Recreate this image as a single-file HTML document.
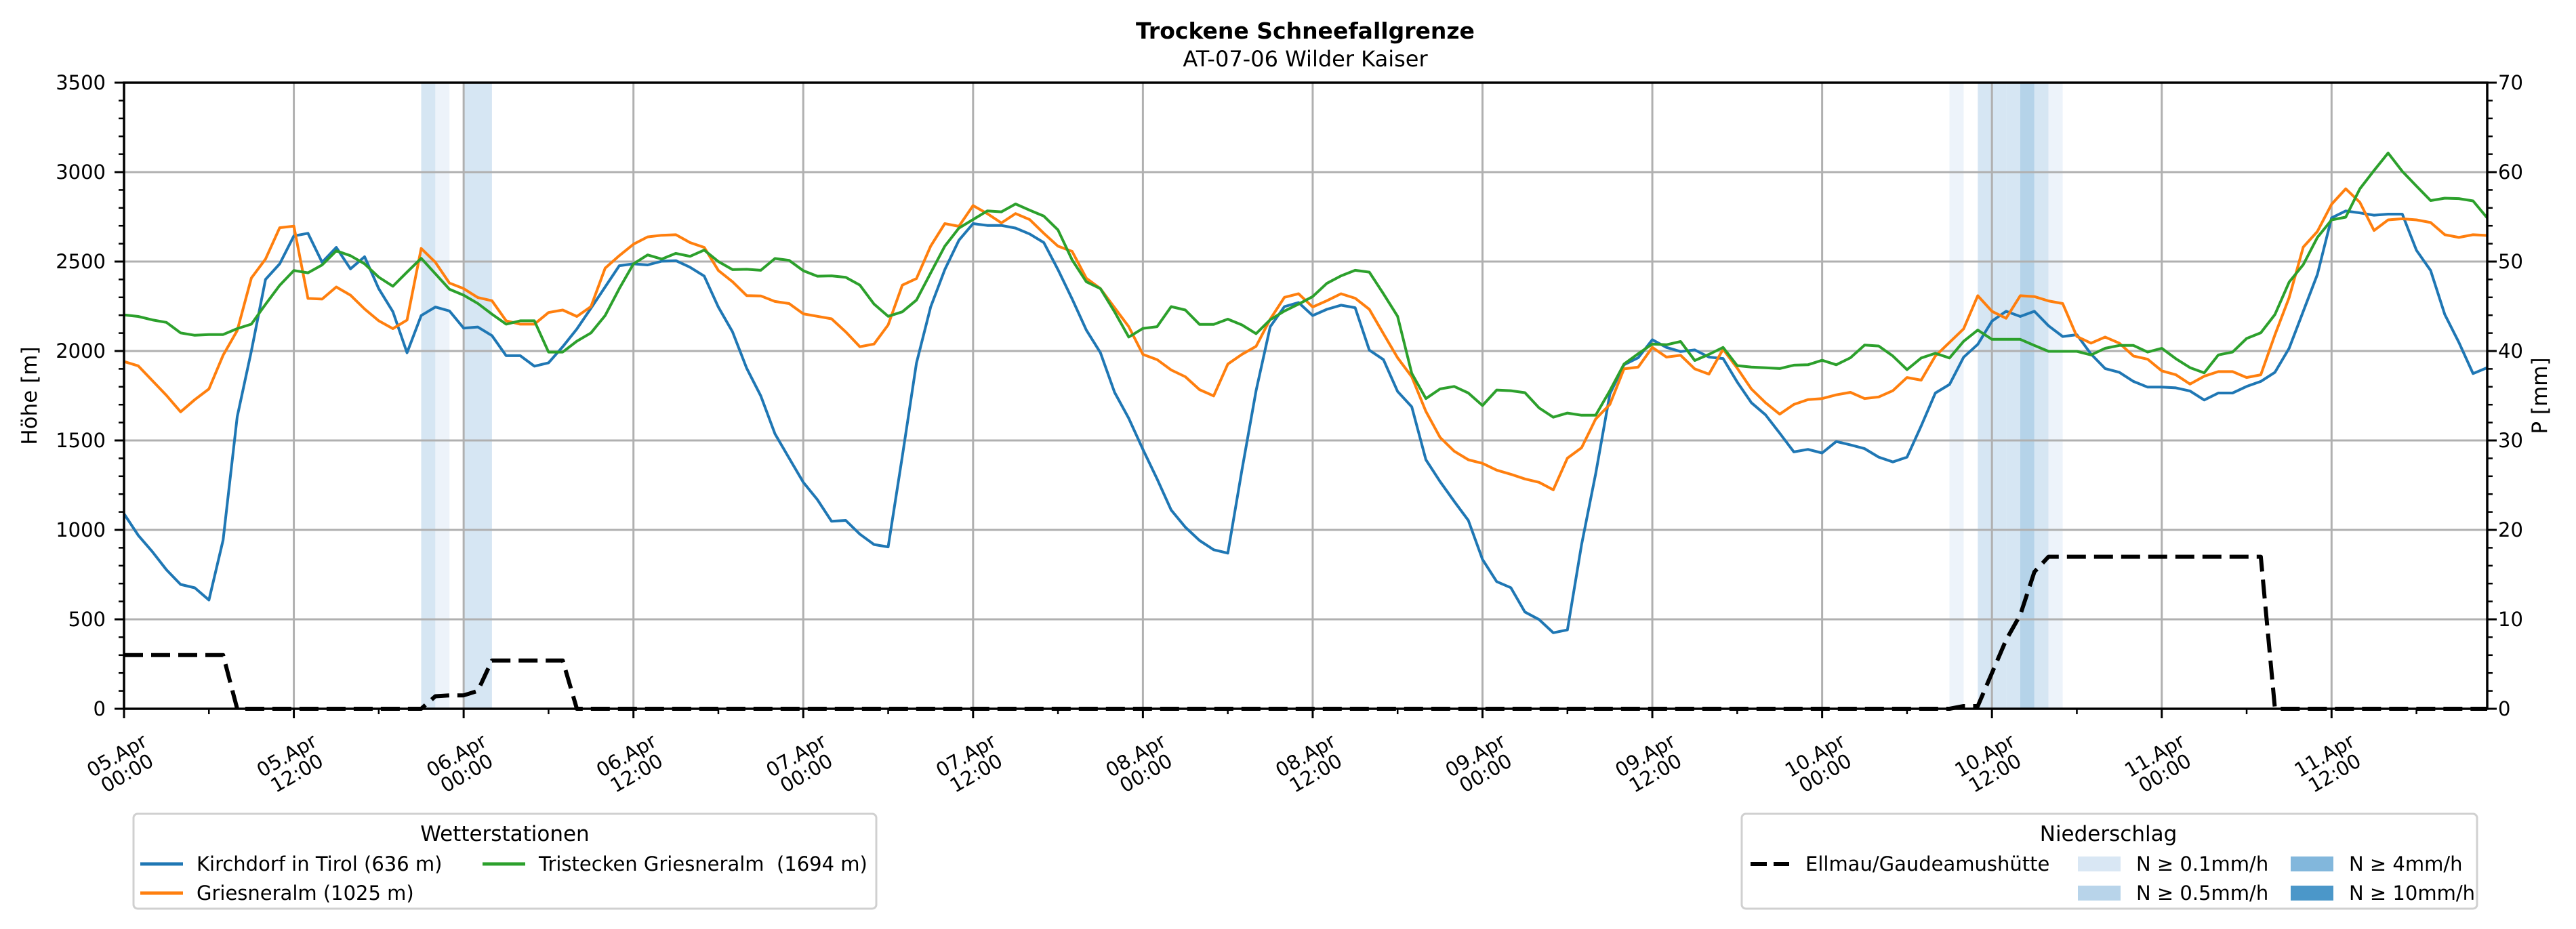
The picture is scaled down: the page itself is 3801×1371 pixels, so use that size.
<!DOCTYPE html>
<html><head><meta charset="utf-8"><style>
html,body{margin:0;padding:0;background:#fff;}
svg{display:block;font-family:"DejaVu Sans","Liberation Sans",sans-serif;}
</style></head><body>
<svg id="chart" width="3801" height="1371" viewBox="0 0 3801 1371" xmlns="http://www.w3.org/2000/svg">
<rect x="0" y="0" width="3801" height="1371" fill="#fff"/>
<text x="1926" y="57" text-anchor="middle" font-size="33" font-weight="bold">Trockene Schneefallgrenze</text>
<text x="1926" y="98" text-anchor="middle" font-size="32">AT-07-06 Wilder Kaiser</text>
<g id="bands"></g>
<g id="grid"></g>
<g id="series"></g>
<g id="axes"></g>
<text transform="translate(54,584) rotate(-90)" text-anchor="middle" font-size="31">Höhe [m]</text>
<text transform="translate(3758,584) rotate(-90)" text-anchor="middle" font-size="31">P [mm]</text>

<g>
<rect x="197" y="1201" width="1096" height="140" rx="6" fill="#fff" stroke="#d0d0d0" stroke-width="3"/>
<text x="745" y="1241" text-anchor="middle" font-size="31">Wetterstationen</text>
<g><line x1="207" y1="1275" x2="270" y2="1275" stroke="#1f77b4" stroke-width="5"/><text x="290" y="1285" font-size="29">Kirchdorf in Tirol (636 m)</text></g>
<g><line x1="207" y1="1318" x2="270" y2="1318" stroke="#ff7f0e" stroke-width="5"/><text x="290" y="1328" font-size="29">Griesneralm (1025 m)</text></g>
<g><line x1="712" y1="1275" x2="775" y2="1275" stroke="#2ca02c" stroke-width="5"/><text x="795" y="1285" font-size="29" xml:space="preserve">Tristecken Griesneralm  (1694 m)</text></g>
</g>

<g>
<rect x="2570" y="1201" width="1085" height="140" rx="6" fill="#fff" stroke="#d0d0d0" stroke-width="3"/>
<text x="3111" y="1241" text-anchor="middle" font-size="31">Niederschlag</text>
<g><line x1="2583" y1="1275" x2="2640" y2="1275" stroke="#000" stroke-width="6" stroke-dasharray="24,10"/><text x="2664" y="1285" font-size="29">Ellmau/Gaudeamushütte</text></g>
<g><rect x="3066" y="1264" width="63" height="22" fill="#d9e7f4"/><text x="3152" y="1285" font-size="29">N ≥ 0.1mm/h</text></g>
<g><rect x="3066" y="1307" width="63" height="22" fill="#b8d4ea"/><text x="3152" y="1328" font-size="29">N ≥ 0.5mm/h</text></g>
<g><rect x="3380" y="1264" width="63" height="22" fill="#82b7dc"/><text x="3466" y="1285" font-size="29">N ≥ 4mm/h</text></g>
<g><rect x="3380" y="1307" width="63" height="22" fill="#4b97c9"/><text x="3466" y="1328" font-size="29">N ≥ 10mm/h</text></g>
</g>
</svg>
<script>
const kirchdorf = [1090,970,878,777,695,676,608,943,1632,2000,2400,2487,2643,2658,2496,2579,2459,2527,2349,2220,1990,2198,2246,2224,2128,2134,2086,1974,1974,1915,1934,2024,2123,2239,2358,2477,2487,2481,2502,2505,2468,2419,2245,
2107,1904,1749,1537,1401,1266,1169,1048,1053,976,918,905,1411,1933,2246,2455,2619,2712,2702,2702,2687,2654,2606,2455,2291,2117,1991,1769,1624,1450,1285,1111,1015,941,889,870,1334,1778,2136,2248,2271,
2198,2233,2256,2242,2005,1952,1774,1688,1392,1270,1160,1053,835,711,677,541,499,425,441,918,1314,1759,1923,1962,2063,2020,1997,2006,1966,1958,1827,1711,1643,1541,1436,1450,1430,1494,1475,1454,1407,1380,
1407,1581,1765,1813,1965,2037,2167,2222,2193,2222,2141,2081,2091,1983,1902,1881,1830,1798,1798,1794,1776,1726,1765,1765,1802,1830,1881,2015,2222,2428,2744,2783,2772,2759,2765,2765,2563,2450,2204,2048,1874,1907];
const griesneralm = [1941,1917,1834,1752,1660,1728,1788,1976,2114,2408,2514,2689,2698,2294,2290,2358,2312,2235,2169,2125,2173,2573,2496,2380,2349,2299,2281,2169,2150,2150,2215,2229,2193,2248,2463,2533,2597,2638,2647,2650,2606,2579,2450,
2387,2310,2308,2277,2265,2208,2194,2180,2107,2024,2039,2146,2368,2405,2586,2712,2697,2813,2768,2716,2768,2735,2658,2586,2557,2407,2349,2242,2136,1981,1952,1894,1856,1784,1749,1927,1981,2026,2178,2300,2320,
2246,2281,2320,2295,2233,2097,1962,1856,1662,1517,1440,1392,1372,1334,1311,1285,1266,1224,1401,1459,1620,1701,1900,1910,2020,1966,1976,1900,1871,2010,1904,1788,1711,1647,1701,1728,1734,1755,1769,1734,1743,1778,
1852,1837,1972,2048,2124,2309,2222,2183,2309,2304,2280,2265,2081,2044,2078,2044,1972,1954,1889,1867,1815,1859,1885,1885,1852,1867,2091,2298,2581,2668,2820,2907,2831,2674,2733,2739,2733,2718,2650,2635,2650,2646];
const tristecken = [2202,2193,2174,2160,2101,2088,2092,2092,2125,2150,2261,2367,2450,2437,2481,2560,2533,2487,2413,2362,2441,2518,2432,2345,2312,2266,2206,2150,2169,2169,1994,1994,2055,2101,2198,2349,2487,2537,2514,2546,2529,2564,2500,
2455,2457,2451,2517,2507,2449,2418,2420,2412,2368,2262,2194,2219,2285,2436,2586,2687,2735,2783,2778,2822,2787,2754,2677,2509,2387,2349,2219,2078,2126,2136,2248,2229,2149,2149,2178,2146,2097,2175,2223,2262,
2304,2378,2420,2451,2441,2320,2194,1875,1734,1788,1802,1765,1695,1782,1778,1767,1682,1630,1653,1641,1641,1778,1927,1985,2039,2035,2053,1947,1981,2020,1918,1910,1906,1902,1921,1923,1948,1923,1962,2033,2028,1972,
1896,1961,1987,1961,2054,2117,2065,2065,2065,2031,1998,1998,1998,1978,2015,2031,2031,1994,2015,1957,1907,1878,1978,1994,2070,2102,2204,2385,2483,2635,2733,2748,2907,3009,3107,3004,2922,2841,2854,2852,2839,2744];
const precipSum = [6,6,6,6,6,6,6,6,0,0,0,0,0,0,0,0,0,0,0,0,0,0,1.4,1.5,1.5,2.0,5.4,5.4,5.4,5.4,5.4,5.4,
0,0,0,0,0,0,0,0,0,0,0,0,0,0,0,0,0,0,0,0,0,0,0,0,0,0,0,0,0,0,0,0,0,0,0,0,0,0,0,0,0,0,0,0,0,0,0,0,0,0,0,0,0,0,0,0,0,0,0,0,0,0,0,0,0,0,0,0,0,0,0,0,0,0,0,0,0,0,0,0,0,0,0,0,0,0,0,0,0,0,0,0,0,0,0,0,0,0,
0.3,0.3,4,7.7,10.5,15.3,17,17,17,17,17,17,17,17,17,17,17,17,17,17,17,17,
0,0,0,0,0,0,0,0,0,0,0,0,0,0,0,0];
const bandHours = [21,22,24,25,129,131,132,133,134,135,136];
const bandLevels = [1,0,1,1,0,1,1,1,2,1,0];
const xTickLabels = ["05.Apr|00:00","05.Apr|12:00","06.Apr|00:00","06.Apr|12:00","07.Apr|00:00","07.Apr|12:00","08.Apr|00:00","08.Apr|12:00","09.Apr|00:00","09.Apr|12:00","10.Apr|00:00","10.Apr|12:00","11.Apr|00:00","11.Apr|12:00"];
const leftTicks = [0,500,1000,1500,2000,2500,3000,3500];
const rightTicks = [0,10,20,30,40,50,60,70];

const NS="http://www.w3.org/2000/svg";
const X0=183,X1=3670,Y0=1046,Y1=122,HMAX=167;
const x=h=>X0+h*(X1-X0)/HMAX;
const yL=v=>Y0-v*(Y0-Y1)/3500;
const yR=v=>Y0-v*(Y0-Y1)/70;
function mk(tag,attrs,parent){const e=document.createElementNS(NS,tag);for(const k in attrs)e.setAttribute(k,attrs[k]);parent.appendChild(e);return e;}
const bands=document.getElementById('bands'),grid=document.getElementById('grid'),series=document.getElementById('series'),axes=document.getElementById('axes');
const bandColors=['#edf3fa','#d6e6f3','#b5d3e9'];
bandHours.forEach((h,i)=>{
  const r=mk('rect',{x:x(h),y:Y1,width:x(h+1)-x(h),height:Y0-Y1,fill:bandColors[bandLevels[i]]},bands);
  
  
});
xTickLabels.forEach((lab,i)=>{
  const h=i*12;
  if(h>0){const g=mk('line',{x1:x(h),y1:Y1,x2:x(h),y2:Y0,stroke:'#b0b0b0','stroke-width':3},grid);
  
  }
  mk('line',{x1:x(h),y1:Y0,x2:x(h),y2:Y0+14,stroke:'#000','stroke-width':3},axes);
  mk('line',{x1:x(h+6),y1:Y0,x2:x(h+6),y2:Y0+8,stroke:'#000','stroke-width':2.5},axes);
  const parts=lab.split('|');
  const t=mk('text',{transform:`translate(${x(h)-3},1128) rotate(-30)`,'text-anchor':'middle','font-size':29},axes);
  
  
  mk('tspan',{x:0,y:-5},t).textContent=parts[0];
  mk('tspan',{x:0,y:25},t).textContent=parts[1];
});
leftTicks.forEach(v=>{
  if(v>0&&v<3500){const g=mk('line',{x1:X0,y1:yL(v),x2:X1,y2:yL(v),stroke:'#b0b0b0','stroke-width':3},grid);
  
  }
  mk('line',{x1:X0-14,y1:yL(v),x2:X0,y2:yL(v),stroke:'#000','stroke-width':3},axes);
  const t=mk('text',{x:156,y:yL(v)+10,'text-anchor':'end','font-size':29},axes);
  t.textContent=v;
  
  
});
for(let v=100;v<3500;v+=100){if(v%500)mk('line',{x1:X0-8,y1:yL(v),x2:X0,y2:yL(v),stroke:'#000','stroke-width':2.5},axes);}
rightTicks.forEach(v=>{
  mk('line',{x1:X1,y1:yR(v),x2:X1+14,y2:yR(v),stroke:'#000','stroke-width':3},axes);
  const t=mk('text',{x:3686,y:yR(v)+10,'font-size':29},axes);
  t.textContent=v;
  
  
});
for(let v=2;v<70;v+=2){if(v%10)mk('line',{x1:X1,y1:yR(v),x2:X1+8,y2:yR(v),stroke:'#000','stroke-width':2.5},axes);}
const fr=mk('rect',{x:X0,y:Y1,width:X1-X0,height:Y0-Y1,fill:'none',stroke:'#000','stroke-width':3.5},axes);


function line(arr,yf,attrs,name){
  const d=arr.map((v,i)=>(i?'L':'M')+x(i).toFixed(1)+','+yf(v).toFixed(1)).join('');
  const p=mk('path',Object.assign({d:d,fill:'none','stroke-linejoin':'round'},attrs),series);
  
  
}
line(kirchdorf,yL,{stroke:'#1f77b4','stroke-width':4},'line-kirchdorf');
line(griesneralm,yL,{stroke:'#ff7f0e','stroke-width':4},'line-griesneralm');
line(tristecken,yL,{stroke:'#2ca02c','stroke-width':4},'line-tristecken');
line(precipSum,yR,{stroke:'#000','stroke-width':6,'stroke-dasharray':'28,12'},'line-precip-ellmau');
</script>
</body></html>
